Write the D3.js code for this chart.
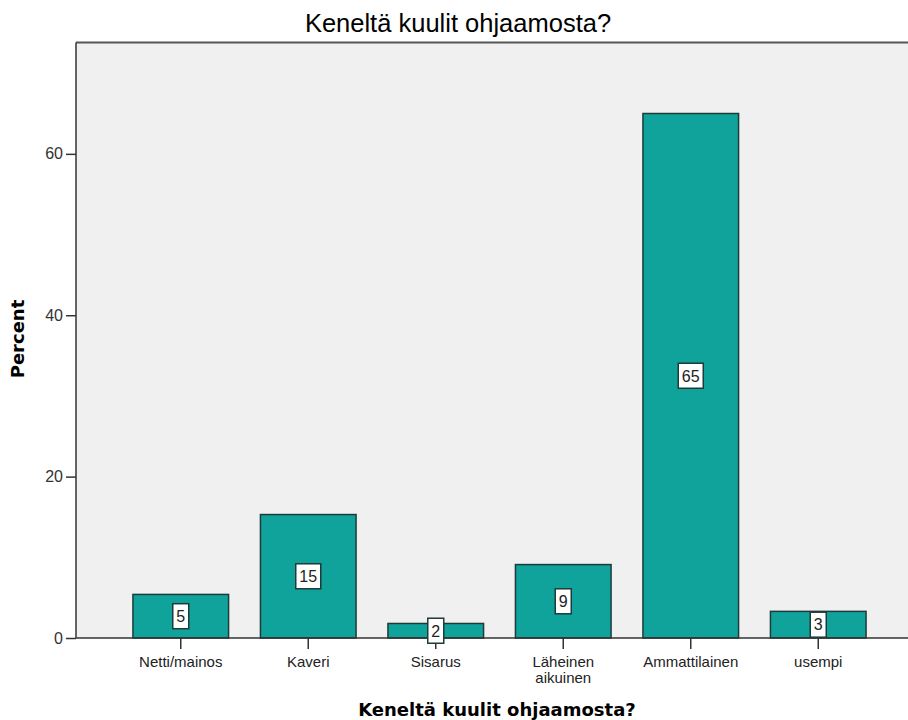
<!DOCTYPE html>
<html><head><meta charset="utf-8">
<script src="https://cdn.jsdelivr.net/npm/d3@7"></script>
<style>body{margin:0;background:#fff;} svg{display:block;font-family:"Liberation Sans",Arial,sans-serif;}</style>
</head><body>
<script>
const categories = ["Netti/mainos", "Kaveri", "Sisarus", "Läheinen\naikuinen", "Ammattilainen", "usempi"];
const percents = [5.4, 15.3, 1.8, 9.1, 65.0, 3.3];
const yTicks = [0, 20, 40, 60];
const title = "Keneltä kuulit ohjaamosta?";
const xTitle = "Keneltä kuulit ohjaamosta?";
const yTitle = "Percent";

const W = 908, H = 720;
const pL = 76, pR = 908, pT = 42.5, pB = 638;
const svg = d3.select("body").append("svg").attr("width", W).attr("height", H);

const y = d3.scaleLinear().domain([0, 73.8]).range([pB, pT]);
const x = d3.scaleBand().domain(categories).range([117, 882]).paddingInner(0.25).paddingOuter(0.125);

// plot background
svg.append("rect").attr("x", pL).attr("y", pT).attr("width", pR - pL).attr("height", pB - pT)
  .attr("fill", "#f0f0f0");
// frame top & left
svg.append("line").attr("x1", pL).attr("x2", pR).attr("y1", pT).attr("y2", pT)
  .attr("stroke", "#555").attr("stroke-width", 2);
svg.append("line").attr("x1", pL).attr("x2", pL).attr("y1", pT).attr("y2", pB)
  .attr("stroke", "#333").attr("stroke-width", 1.5);

// bars
svg.selectAll("rect.bar").data(percents).join("rect").attr("class", "bar")
  .attr("x", (d, i) => x(categories[i]))
  .attr("y", d => y(d))
  .attr("width", x.bandwidth())
  .attr("height", d => pB - y(d))
  .attr("fill", "#0fa39b").attr("stroke", "#1e3b39").attr("stroke-width", 1.5);

// baseline
svg.append("line").attr("x1", pL).attr("x2", pR).attr("y1", pB).attr("y2", pB)
  .attr("stroke", "#333").attr("stroke-width", 1.5);

// y axis
const yAxis = d3.axisLeft(y).tickValues(yTicks).tickSize(10).tickPadding(3).tickFormat(d3.format("d"));
const gy = svg.append("g").attr("transform", `translate(${pL},0)`).call(yAxis);
gy.select(".domain").remove();
gy.selectAll(".tick line").attr("stroke", "#333").attr("stroke-width", 1.5);
gy.selectAll(".tick text").attr("font-size", 16).attr("fill", "#333").attr("font-family", "Liberation Sans, Arial, sans-serif");

// x axis
const xAxis = d3.axisBottom(x).tickSize(11).tickPadding(3).tickFormat("");
const gx = svg.append("g").attr("transform", `translate(0,${pB})`).call(xAxis);
gx.select(".domain").remove();
gx.selectAll(".tick line").attr("stroke", "#333").attr("stroke-width", 1.5);
gx.selectAll(".tick").each(function(d) {
  const lines = d.split("\n");
  const g = d3.select(this);
  lines.forEach((l, k) => g.append("text").attr("text-anchor", "middle").attr("fill", "#222")
    .attr("font-size", 15).attr("y", 29 + k * 15.5)
    .attr("font-family", "Liberation Sans, Arial, sans-serif").text(l));
});

// value labels
const lab = svg.selectAll("g.lab").data(percents).join("g").attr("class", "lab")
  .attr("transform", (d, i) => `translate(${x(categories[i]) + x.bandwidth() / 2},${(y(d) + pB) / 2})`);
lab.each(function(d) {
  const g = d3.select(this);
  const txt = String(Math.round(d));
  const w = txt.length * 9 + 7;
  g.append("rect").attr("x", -w / 2).attr("y", -12.5).attr("width", w).attr("height", 25)
    .attr("fill", "#fff").attr("stroke", "#1e3b39").attr("stroke-width", 1.5);
  g.append("text").attr("text-anchor", "middle").attr("dy", "0.36em").attr("font-size", 16)
    .attr("fill", "#222").text(txt);
});

// titles
svg.append("text").attr("x", 458).attr("y", 32).attr("text-anchor", "middle")
  .attr("font-size", 25.5).attr("fill", "#000").text(title);
svg.append("text").attr("x", 497).attr("y", 716).attr("text-anchor", "middle")
  .attr("font-size", 18).attr("font-weight", "bold").attr("fill", "#000")
  .attr("font-family", "DejaVu Sans, sans-serif").text(xTitle);
svg.append("text").attr("transform", "translate(24,339) rotate(-90)").attr("text-anchor", "middle")
  .attr("font-size", 18).attr("font-weight", "bold").attr("fill", "#000")
  .attr("font-family", "DejaVu Sans, sans-serif").text(yTitle);
</script>
</body></html>
